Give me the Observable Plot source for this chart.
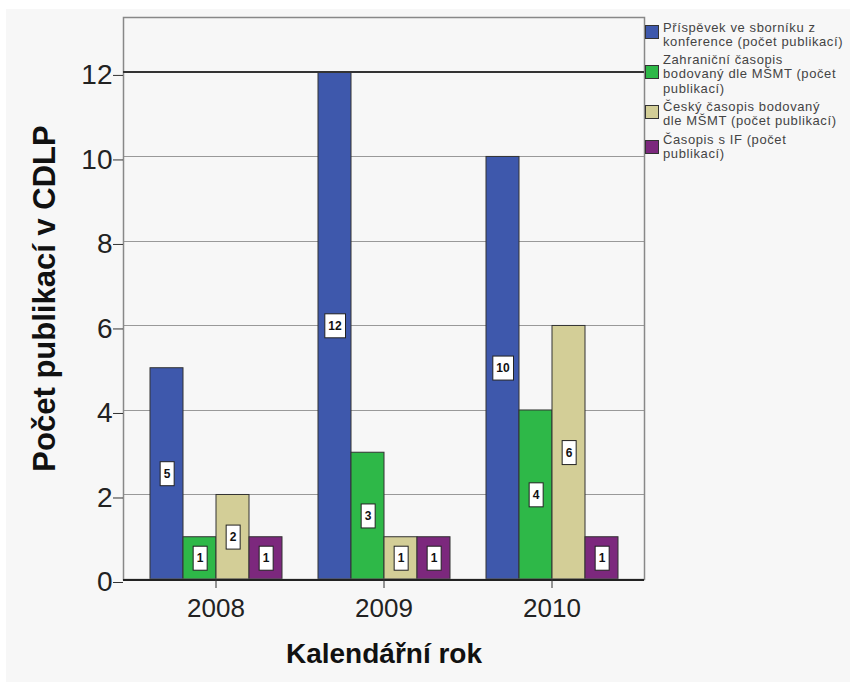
<!DOCTYPE html>
<html>
<head>
<meta charset="utf-8">
<script src="https://cdn.jsdelivr.net/npm/d3@7"></script>
<script src="https://cdn.jsdelivr.net/npm/@observablehq/plot@0.6"></script>
<style>
  html, body { margin: 0; padding: 0; background: #ffffff; }
  #wrap { position: relative; width: 850px; height: 682px; overflow: hidden; background: #ffffff; }
  #wrap svg { position: absolute; left: 6px; top: 9px; background: #f7f7f7; }
  .leg { position: absolute; font-family: "Liberation Sans", Arial, sans-serif; font-size: 13px;
         letter-spacing: 0.6px; line-height: 14.3px; color: #444; white-space: pre-line; }
  .sw { position: absolute; width: 14px; height: 14px; box-sizing: border-box; border: 1px solid #333; }
</style>
</head>
<body>
<div id="wrap"></div>
<script>
// ---- data ----
const years = ["2008", "2009", "2010"];
const seriesNames = [
  "Příspěvek ve sborníku z\nkonference (počet publikací)",
  "Zahraniční časopis\nbodovaný dle MŠMT (počet\npublikací)",
  "Český časopis bodovaný\ndle MŠMT (počet publikací)",
  "Časopis s IF (počet\npublikací)"
];
const conference = [5, 12, 10];
const foreignJournal = [1, 3, 4];
const czechJournal = [2, 1, 6];
const impactJournal = [1, 1, 1];
const yTicks = [0, 2, 4, 6, 8, 10, 12];
const gridTicks = [2, 4, 6, 8, 10];
const yTitle = "Počet publikací v CDLP";
const xTitle = "Kalendářní rok";

// ---- styles ----
const colors = ["#3E58AC", "#2EB848", "#D3CE97", "#7C287D"];
const font = "'Liberation Sans', Arial, sans-serif";
const ext = -26; // extend horizontal rules / frame across the outer padding of the facets

const seriesValues = [conference, foreignJournal, czechJournal, impactJournal];
const rows = [];
years.forEach((yr, i) => {
  seriesNames.forEach((s, j) => rows.push({year: yr, series: s, value: seriesValues[j][i]}));
});

const chart = Plot.plot({
  width: 844,
  height: 673,
  marginLeft: 116,
  marginRight: 204,
  marginTop: 8,
  marginBottom: 103,
  style: {background: "#f7f7f7", fontFamily: font, color: "#222"},
  fx: {domain: years, paddingInner: 0.207, paddingOuter: 0.154, label: null},
  x: {domain: seriesNames, padding: 0, axis: null},
  y: {domain: [0, 13.3], label: null},
  color: {domain: seriesNames, range: colors},
  marks: [
    Plot.gridY(gridTicks, {stroke: "#999", strokeOpacity: 1, strokeWidth: 1, insetLeft: ext, insetRight: ext, shapeRendering: "crispEdges"}),
    Plot.barY(rows, {fx: "year", x: "series", y: "value", fill: "series", stroke: "#333", strokeWidth: 1}),
    Plot.frame({stroke: "#888", strokeWidth: 1.5, facet: "super", insetLeft: ext, insetRight: ext}),
    Plot.ruleY([12], {stroke: "#333", strokeWidth: 2, insetLeft: ext, insetRight: ext, shapeRendering: "crispEdges"}),
    Plot.ruleY([0], {stroke: "#222", strokeWidth: 2, insetLeft: ext, insetRight: ext, shapeRendering: "crispEdges"}),
    Plot.axisY({ticks: yTicks, tickSize: 10, tickPadding: 1, fontSize: 28, stroke: "#333", fill: "#222", dx: ext, dy: 3, label: null}),
    Plot.axisFx({anchor: "bottom", tickSize: 9, tickPadding: 10, fontSize: 26, stroke: "#333", fill: "#222", label: null}),
    Plot.text(rows, {fx: "year", x: "series", y: d => d.value / 2, text: d => String(d.value),
      fontSize: 12, fontWeight: "bold", fill: "#111", ariaDescription: "value-labels"}),
    Plot.text([yTitle], {frameAnchor: "left", textAnchor: "middle", rotate: -90, dx: -104, fontSize: 31, fontWeight: "bold", fill: "#111", facet: "super"}),
    Plot.text([xTitle], {frameAnchor: "bottom", dy: 83, fontSize: 28, fontWeight: "bold", fill: "#111", facet: "super"})
  ]
});

const wrap = document.getElementById("wrap");
wrap.appendChild(chart);

// white boxes behind value labels
let labelTexts = chart.querySelectorAll('g[aria-description="value-labels"] text');
if (!labelTexts.length) {
  labelTexts = Array.from(chart.querySelectorAll('g[aria-label="text"] text')).filter(t => /^\d+$/.test(t.textContent));
}
labelTexts.forEach(t => {
  const b = t.getBBox();
  const padX = 3.5, padY = 6;
  const r = document.createElementNS("http://www.w3.org/2000/svg", "rect");
  r.setAttribute("x", b.x - padX);
  r.setAttribute("y", b.y - padY + 1);
  r.setAttribute("width", b.width + 2 * padX);
  r.setAttribute("height", b.height + 2 * padY - 2);
  r.setAttribute("fill", "#fff");
  r.setAttribute("stroke", "#222");
  r.setAttribute("stroke-width", "1");
  const tr = t.getAttribute("transform");
  if (tr) r.setAttribute("transform", tr);
  t.parentNode.insertBefore(r, t);
});

// legend
const legendTextTop = [21, 53, 99.5, 133];
const legendSwatchTop = [25, 65, 105, 140];
seriesNames.forEach((s, i) => {
  const sw = document.createElement("div");
  sw.className = "sw";
  sw.style.left = "645px";
  sw.style.top = legendSwatchTop[i] + "px";
  sw.style.background = colors[i];
  wrap.appendChild(sw);
  const t = document.createElement("div");
  t.className = "leg";
  t.style.left = "663px";
  t.style.top = legendTextTop[i] + "px";
  t.textContent = s;
  wrap.appendChild(t);
});
</script>
</body>
</html>
